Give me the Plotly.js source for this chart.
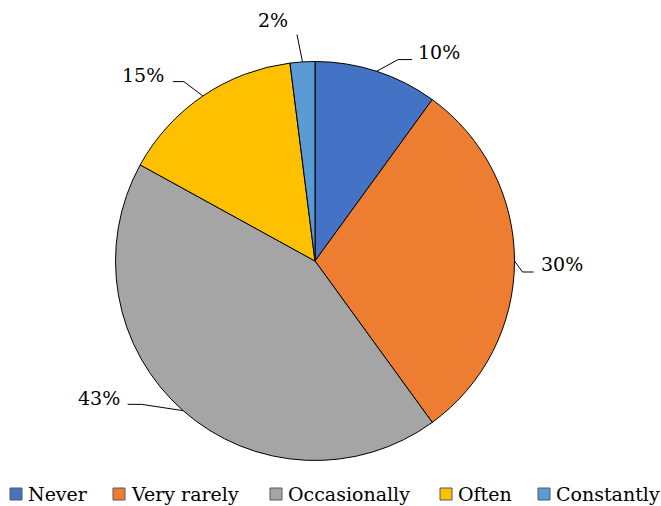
<!DOCTYPE html>
<html>
<head>
<meta charset="utf-8">
<script src="https://cdn.plot.ly/plotly-3.0.1.min.js"></script>
<style>
  html, body { margin: 0; padding: 0; background: #fff; }
  #chart { width: 661px; height: 506px; }
</style>
</head>
<body>
<div id="chart"></div>
<script>
// Survey answer shares, in percent
const categories = ['Never', 'Very rarely', 'Occasionally', 'Often', 'Constantly'];
const shares = [10, 30, 43, 15, 2];
const colors = ['#4472C4', '#ED7D31', '#A5A5A5', '#FFC000', '#5B9BD5'];

const W = 661, H = 506;
const FONT = 'DejaVu Serif';

// Pie geometry in pixels (centre and radius); the trace domain is built from it
const cx = 315, cy = 261, R = 199.5;
const domain = {
  x: [(cx - R) / W, (cx + R) / W],
  y: [(H - cy - R) / H, (H - cy + R) / H]
};

// Where each percentage label sits relative to its slice's rim point:
// elbow of the leader line, end of the leader line, and text offset from that end
const labelLayout = [
  { elbow: [21.5, -11.7], end: [35.5, -11.7], text: [4, -8],  anchor: 'left' },
  { elbow: [8, 11],       end: [19, 11],      text: [5, -8],  anchor: 'left' },
  { elbow: [-41.4, -6.3], end: [-55.4, -6.3], text: [-6, -6], anchor: 'right' },
  { elbow: [-19, -14.4],  end: [-30, -14.4],  text: [-7, -7], anchor: 'right' },
  { elbow: [-5.5, -27.4], end: [-5.5, -27.4], text: [-7, -14], anchor: 'right' }
];

const px = x => x / W;
const py = y => 1 - y / H;

const total = shares.reduce((a, b) => a + b, 0);
const shapes = [];
const annotations = [];
let cum = 0;
shares.forEach((v, i) => {
  const mid = (cum + v / 2) / total * 2 * Math.PI; // clockwise from 12 o'clock
  cum += v;
  const ex = cx + R * Math.sin(mid);
  const ey = cy - R * Math.cos(mid);
  const L = labelLayout[i];
  const bx = ex + L.elbow[0], by = ey + L.elbow[1];
  const tx = ex + L.end[0], ty = ey + L.end[1];
  shapes.push({
    type: 'path', xref: 'paper', yref: 'paper',
    path: `M ${px(ex)},${py(ey)} L ${px(bx)},${py(by)} L ${px(tx)},${py(ty)}`,
    line: { color: '#000', width: 1 }
  });
  annotations.push({
    xref: 'paper', yref: 'paper',
    x: px(tx + L.text[0]), y: py(ty + L.text[1]),
    xanchor: L.anchor, yanchor: 'middle',
    text: Math.round(v / total * 100) + '%',
    showarrow: false,
    font: { family: FONT, size: 19, color: '#000' }
  });
});

// Legend row along the bottom: square swatch followed by the category name
const legendSwatchX = [10, 113, 270, 440, 538];
const legendY = 494;
categories.forEach((c, i) => {
  const x0 = legendSwatchX[i];
  shapes.push({
    type: 'rect', xref: 'paper', yref: 'paper',
    x0: px(x0), x1: px(x0 + 12), y0: py(legendY + 6), y1: py(legendY - 6),
    fillcolor: colors[i], line: { color: '#595959', width: 1 }
  });
  annotations.push({
    xref: 'paper', yref: 'paper',
    x: px(x0 + 16), y: py(legendY),
    xanchor: 'left', yanchor: 'middle',
    text: c, showarrow: false,
    font: { family: FONT, size: 19, color: '#000' }
  });
});

const trace = {
  type: 'pie',
  labels: categories,
  values: shares,
  sort: false,
  direction: 'clockwise',
  rotation: 0,
  textinfo: 'none',
  hoverinfo: 'label+percent',
  marker: { colors: colors, line: { color: '#000', width: 1 } },
  domain: domain,
  showlegend: false
};

const layout = {
  width: W, height: H,
  margin: { l: 0, r: 0, t: 0, b: 0 },
  paper_bgcolor: '#fff',
  plot_bgcolor: '#fff',
  showlegend: false,
  shapes: shapes,
  annotations: annotations,
  font: { family: FONT }
};

Plotly.newPlot('chart', [trace], layout, { displayModeBar: false, staticPlot: true });
</script>
</body>
</html>
